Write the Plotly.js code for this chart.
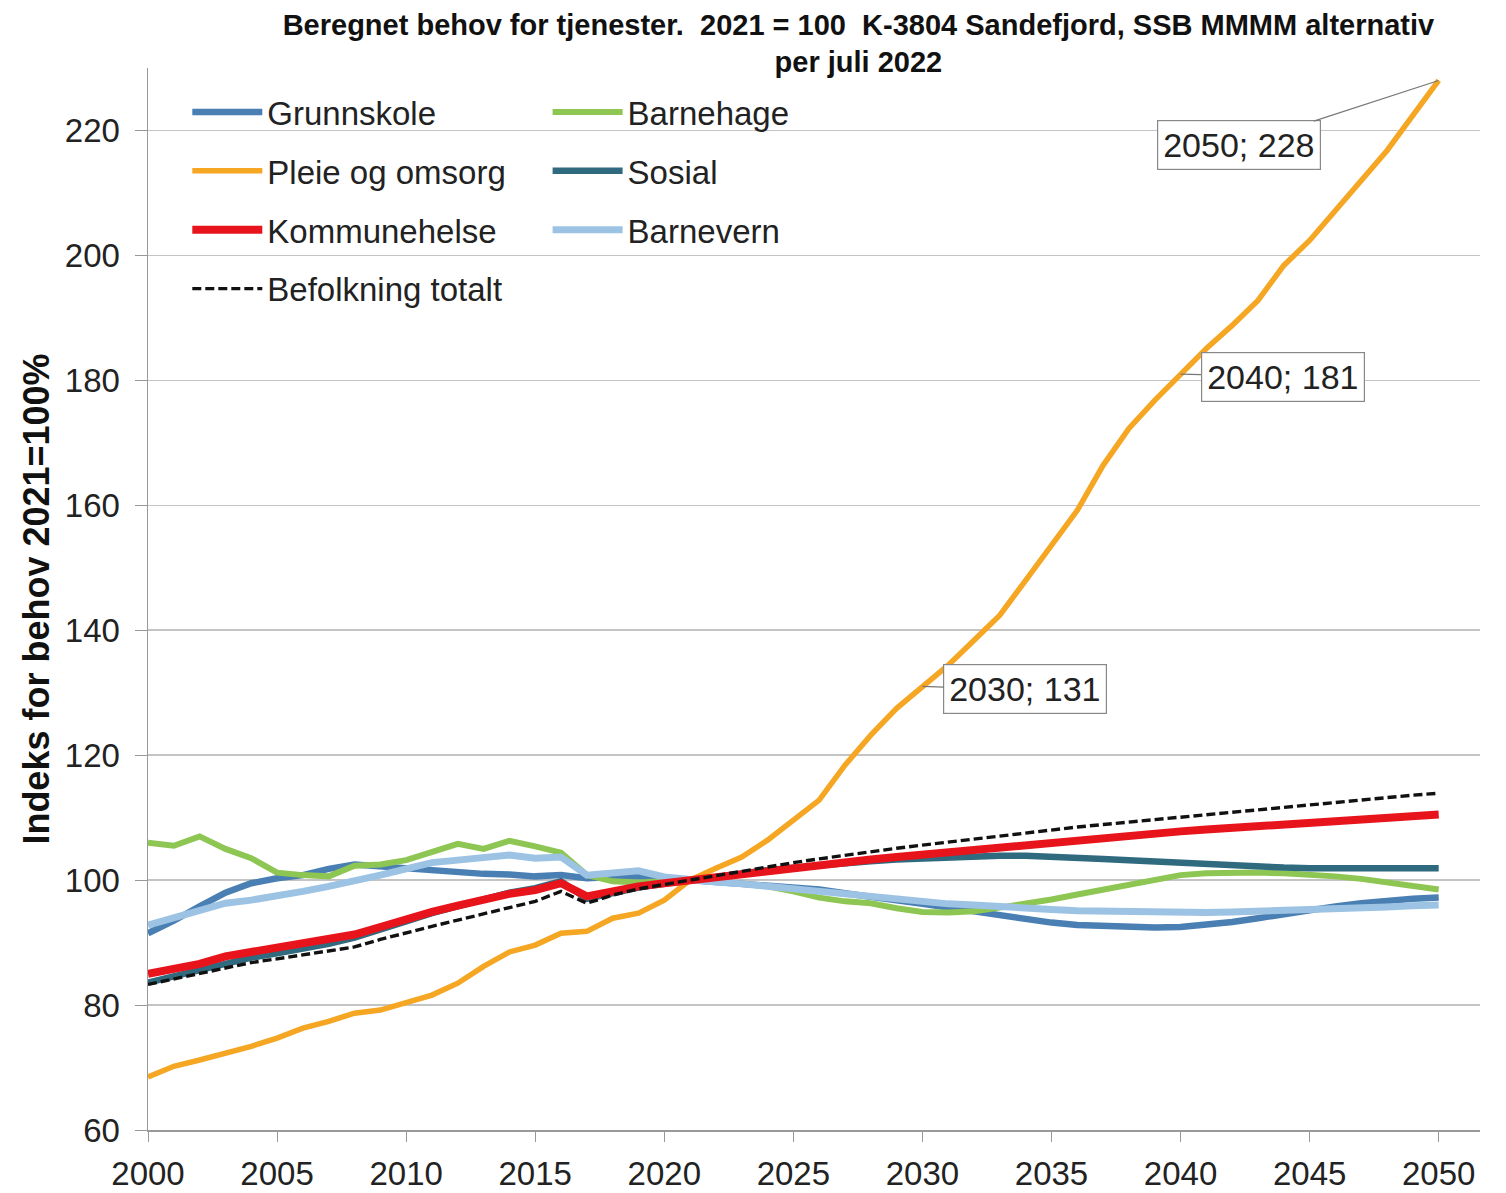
<!DOCTYPE html>
<html>
<head>
<meta charset="utf-8">
<script src="https://cdn.plot.ly/plotly-3.0.1.min.js"></script>
<style>html,body{margin:0;padding:0;background:#fff;}#chart{width:1506px;height:1193px;}</style>
</head>
<body>
<div id="chart"></div>
<script>
const years = [];
for (let y = 2000; y <= 2050; y++) years.push(y);

const grunnskole = [91.5,93.5,95.8,98.0,99.5,100.3,100.8,101.8,102.5,102.2,101.8,101.4,101.1,101.0,100.9,100.6,100.8,100.3,100.5,100.6,100.3,100,
  99.8,99.6,99.3,99.0,98.5,97.9,97.4,96.8,96.2,95.6,95.0,94.3,93.7,93.2,92.8,92.6,92.5,92.4,92.5,92.8,93.3,93.9,94.6,95.2,95.8,96.3,96.7,97.0,97.2];
const barnehage = [106.0,105.5,107.0,105.0,103.5,101.2,100.8,100.6,102.3,102.5,103.2,104.5,105.8,105.0,106.3,105.4,104.4,100.8,99.8,99.6,99.7,100,
  99.8,99.5,99.0,98.2,97.2,96.6,96.3,95.5,94.9,94.8,95.0,95.6,96.2,96.9,97.7,98.5,99.3,100.2,100.8,101.1,101.2,101.2,101.1,100.9,100.6,100.2,99.7,99.1,98.5];
const pleie = [68.5,70.2,71.2,72.2,73.4,74.7,76.3,77.4,78.7,79.2,80.3,81.6,83.5,86.2,88.5,89.6,91.5,91.8,93.9,94.7,96.8,100,
  101.9,103.7,106.4,109.6,112.8,118.4,123.2,127.5,131,134.4,138.4,142.4,148.0,153.6,159.2,166.4,172.3,176.8,181,185.1,188.8,192.8,198.4,202.4,207.2,212.0,216.8,222.4,228];
const sosial = [83.6,84.6,85.6,86.8,87.6,88.3,89.0,89.8,90.8,92.0,93.4,94.7,95.8,96.9,98.0,98.7,99.8,97.0,98.0,98.8,99.4,100,
  100.6,101.1,101.6,102.0,102.4,102.7,103.0,103.3,103.5,103.7,103.8,103.9,103.9,103.8,103.6,103.4,103.2,103.0,102.7,102.4,102.2,102.1,102.0,101.9,101.9,101.9,101.9,101.9,101.9];
const kommunehelse = [85.0,85.8,86.6,87.8,88.5,89.0,89.7,90.4,91.3,92.5,93.8,94.9,95.9,96.9,97.8,98.4,99.5,97.4,98.3,99.0,99.5,100,
  100.6,101.1,101.6,102.0,102.5,102.9,103.3,103.7,104.1,104.5,104.9,105.3,105.6,106.0,106.4,106.8,107.1,107.5,107.8,108.1,108.4,108.7,109.0,109.3,109.6,109.8,110.1,110.3,110.5];
const barnevern = [92.8,94.0,95.0,96.3,96.8,97.4,98.2,99.0,99.8,100.8,101.8,102.8,103.2,103.5,104.0,103.5,103.7,100.8,101.2,101.5,100.5,100,
  99.7,99.4,99.0,98.6,98.1,97.7,97.2,96.8,96.5,96.2,96.0,95.7,95.5,95.3,95.1,95.0,94.9,94.8,94.8,94.8,94.9,95.0,95.1,95.3,95.4,95.6,95.7,95.9,96.0];
const befolkning = [83.3,84.2,85.0,86.0,86.8,87.4,88.0,88.6,89.3,90.5,91.6,92.6,93.6,94.6,95.6,96.6,98.2,96.3,97.6,98.6,99.3,100,
  100.8,101.5,102.2,102.8,103.4,104.0,104.6,105.1,105.6,106.1,106.6,107.1,107.6,108.0,108.5,108.9,109.3,109.7,110.1,110.5,110.9,111.3,111.6,112.0,112.4,112.8,113.2,113.6,113.9];

const xTicks = [2000,2005,2010,2015,2020,2025,2030,2035,2040,2045,2050];
const yTicks = [60,80,100,120,140,160,180,200,220];
const labelYears = [2030, 2040, 2050];

const FONT = 'Liberation Sans, Arial, sans-serif';

function tr(name, y, color, width, legend, rank, dash) {
  return {
    x: years, y: y, name: name, type: 'scatter', mode: 'lines',
    line: {color: color, width: width, dash: dash || 'solid'},
    legend: legend, legendrank: rank, legendgroup: name,
    hoverinfo: 'x+y+name'
  };
}

const data = [
  tr('Grunnskole', grunnskole, '#4a7fb3', 6.5, 'legend', 1),
  tr('Barnehage', barnehage, '#8dc653', 6, 'legend2', 1),
  tr('Sosial', sosial, '#2f6a7f', 6.5, 'legend2', 2),
  tr('Barnevern', barnevern, '#9cc3e4', 7, 'legend2', 3),
  tr('Pleie og omsorg', pleie, '#f5a623', 5.5, 'legend', 2),
  tr('Kommunehelse', kommunehelse, '#e8141c', 8, 'legend', 3),
  tr('Befolkning totalt', befolkning, '#111111', 3.4, 'legend', 4, '9px,4px')
];

const offsets = {2030: [103, 3], 2040: [102, 3], 2050: [-200, 65]};
const annotations = labelYears.map(yr => {
  const i = years.indexOf(yr);
  return {
    x: yr, y: pleie[i], xref: 'x', yref: 'y',
    text: yr + '; ' + Math.round(pleie[i]),
    showarrow: true, arrowhead: 0, arrowwidth: 1.2, arrowcolor: '#777',
    ax: offsets[yr][0], ay: offsets[yr][1],
    bgcolor: '#ffffff', bordercolor: '#888', borderwidth: 1.2, borderpad: 5,
    font: {family: FONT, size: 34, color: '#222'}
  };
});

const legendCommon = {
  orientation: 'v', bgcolor: 'rgba(0,0,0,0)', borderwidth: 0,
  font: {family: FONT, size: 33, color: '#222'},
  itemwidth: 70, tracegroupgap: 13, yanchor: 'top', xanchor: 'left'
};

const layout = {
  width: 1506, height: 1193,
  paper_bgcolor: '#ffffff', plot_bgcolor: '#ffffff',
  margin: {l: 148, r: 26, t: 68, b: 63},
  title: {
    text: '<b>Beregnet behov for tjenester.  2021 = 100  K-3804 Sandefjord, SSB MMMM alternativ<br>per juli 2022</b>',
    font: {family: FONT, size: 29, color: '#111'},
    x: 0.57, xref: 'container', xanchor: 'center',
    y: 0.971, yref: 'container', yanchor: 'top'
  },
  showlegend: true,
  legend: Object.assign({}, legendCommon, {x: 0.0295, y: 0.985}),
  legend2: Object.assign({}, legendCommon, {x: 0.30, y: 0.985}),
  xaxis: {
    range: [2000, 2051.6], tickvals: xTicks, ticktext: xTicks.map(String),
    showgrid: false, zeroline: false,
    showline: true, linecolor: '#999', linewidth: 1.5,
    ticks: 'outside', ticklen: 10, tickcolor: '#999',
    ticklabelstandoff: 4,
    tickfont: {family: FONT, size: 33, color: '#222'}
  },
  yaxis: {
    range: [60, 230], tickvals: yTicks,
    showgrid: true, gridcolor: '#c4c4c4', gridwidth: 1.5, zeroline: false,
    showline: true, linecolor: '#999', linewidth: 1.5,
    ticks: 'outside', ticklen: 12, tickcolor: '#999',
    ticklabelstandoff: 8,
    tickfont: {family: FONT, size: 33, color: '#222'},
    title: {text: '<b>Indeks for behov 2021=100%</b>', font: {family: FONT, size: 36, color: '#111'}, standoff: 4}
  },
  annotations: annotations
};

Plotly.newPlot('chart', data, layout, {displayModeBar: false, staticPlot: true});
</script>
</body>
</html>
